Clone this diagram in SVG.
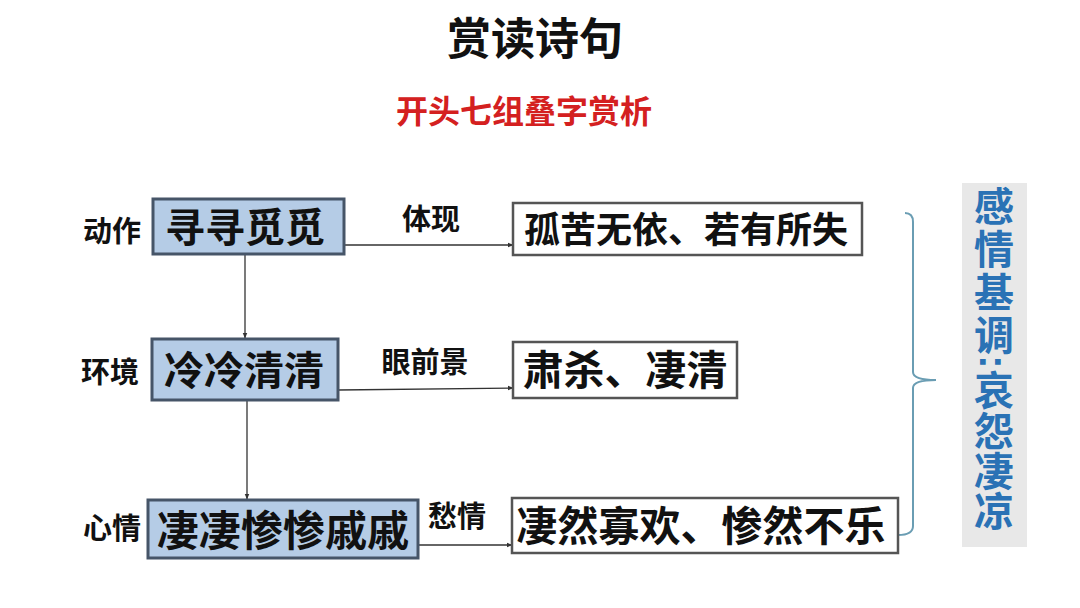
<svg xmlns="http://www.w3.org/2000/svg" width="1080" height="608" viewBox="0 0 1080 608">
<defs>
<style>
text{font-family:"Liberation Sans","Noto Sans CJK SC",sans-serif;font-weight:bold;fill:#111;}
.src{fill:#b5cce6;stroke:#465568;stroke-width:3;}
.dst{fill:#fff;stroke:#555;stroke-width:2.5;}
.lbl{font-size:29px;}
.big{font-size:40px;}
.vt{font-size:40px;fill:#2a72b5;text-anchor:middle;}
.con{stroke:#333;stroke-width:1.3;fill:none;marker-end:url(#ah);}
</style>
<marker id="ah" viewBox="0 0 10 10" refX="9" refY="5" markerWidth="6" markerHeight="6" orient="auto" markerUnits="userSpaceOnUse">
<path d="M0,1 L10,5 L0,9 z" fill="#333"/>
</marker>
</defs>
<rect width="1080" height="608" fill="#fff"/>
<text x="535" y="39" font-size="44" text-anchor="middle" dominant-baseline="central">赏读诗句</text>
<text x="524" y="112" font-size="32" text-anchor="middle" dominant-baseline="central" style="fill:#d42020">开头七组叠字赏析</text>

<g id="connectors">
<line class="con" x1="345" y1="245" x2="513" y2="245"/>
<line class="con" x1="338" y1="390" x2="513" y2="388"/>
<line class="con" x1="418" y1="545" x2="512" y2="545"/>
<line class="con" x1="245" y1="255" x2="245" y2="338"/>
<line class="con" x1="247" y1="400" x2="247" y2="499"/>
<path d="M905,213 Q913,213 913,222 L913,372 Q913,380 936,380 Q913,380 913,388 L913,526 Q913,535 898,535" fill="none" stroke="#6a9db3" stroke-width="2"/>
<text class="lbl" x="431" y="220" text-anchor="middle" dominant-baseline="central">体现</text>
<text class="lbl" x="425" y="363" text-anchor="middle" dominant-baseline="central">眼前景</text>
<text class="lbl" x="457" y="517" text-anchor="middle" dominant-baseline="central">愁情</text>
</g>

<g id="n1">
<text class="lbl" x="112" y="232" font-size="30" text-anchor="middle" dominant-baseline="central">动作</text>
<rect class="src" x="153" y="199" width="191" height="55"/>
<text class="big" x="245" y="228" text-anchor="middle" dominant-baseline="central">寻寻觅觅</text>
</g>
<g id="n2">
<text class="lbl" x="110" y="373" font-size="30" text-anchor="middle" dominant-baseline="central">环境</text>
<rect class="src" x="152" y="339" width="186" height="61"/>
<text class="big" x="244" y="371" text-anchor="middle" dominant-baseline="central">冷冷清清</text>
</g>
<g id="n3">
<text class="lbl" x="112" y="529" font-size="30" text-anchor="middle" dominant-baseline="central">心情</text>
<rect class="src" x="148" y="500" width="270" height="58"/>
<text class="big" x="283" y="531" text-anchor="middle" dominant-baseline="central" style="font-size:42px">凄凄惨惨戚戚</text>
</g>
<g id="r1">
<rect class="dst" x="513" y="203" width="349" height="52"/>
<text x="686" y="230" font-size="36" text-anchor="middle" dominant-baseline="central">孤苦无依、若有所失</text>
</g>
<g id="r2">
<rect class="dst" x="513" y="342" width="224" height="56"/>
<text x="625" y="371" font-size="41" text-anchor="middle" dominant-baseline="central">肃杀、凄清</text>
</g>
<g id="r3">
<rect class="dst" x="512" y="498" width="386" height="55"/>
<text x="701" y="527" font-size="41" text-anchor="middle" dominant-baseline="central">凄然寡欢、惨然不乐</text>
</g>
<g id="summary">
<rect x="962" y="183" width="65" height="364" fill="#e8e8e8"/>
<text class="vt" x="994" y="207" dominant-baseline="central">感</text>
<text class="vt" x="994" y="250" dominant-baseline="central">情</text>
<text class="vt" x="994" y="293" dominant-baseline="central">基</text>
<text class="vt" x="994" y="336" dominant-baseline="central">调</text>
<text class="vt" x="994" y="362" dominant-baseline="central" transform="rotate(90 994 362)">:</text>
<text class="vt" x="994" y="391" dominant-baseline="central">哀</text>
<text class="vt" x="994" y="432" dominant-baseline="central">怨</text>
<text class="vt" x="994" y="472" dominant-baseline="central">凄</text>
<text class="vt" x="994" y="512" dominant-baseline="central">凉</text>
</g>
</svg>
